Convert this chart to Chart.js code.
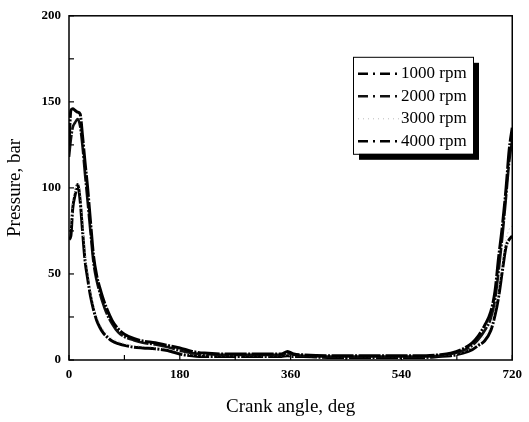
<!DOCTYPE html>
<html>
<head>
<meta charset="utf-8">
<script src="https://cdn.jsdelivr.net/npm/chart.js@4.4.1/dist/chart.umd.min.js"></script>
<style>
  html, body { margin: 0; padding: 0; background: #fff; }
  #wrap { width: 529px; height: 422px; }
</style>
</head>
<body>
<div id="wrap"><canvas id="pressureChart"></canvas></div>
<script>
const angles = [0, 3, 6, 10, 14, 18, 22, 26, 30, 35, 40, 45, 50, 55, 60, 70, 80, 90, 105, 120, 140, 160, 180, 200, 220, 250, 280, 320, 345, 355, 365, 380, 420, 480, 540, 580, 600, 620, 640, 655, 665, 675, 685, 692, 698, 704, 710, 715, 720];

const rpm1000 = [125, 145, 146, 145, 144, 143, 130, 115, 101, 80, 60, 49, 42, 36, 31, 23, 18, 15, 12.5, 11, 10, 8.5, 7, 5, 4, 3.5, 3.5, 3.5, 3.5, 5, 3.5, 3, 2.5, 2.5, 2.5, 2.5, 3, 4, 6.5, 10, 14, 20, 28, 40, 60, 78, 100, 122, 135];
const rpm2000 = [118, 128, 135, 138, 140, 136, 124, 108, 93, 74, 56, 46, 39, 33, 28, 21, 16, 13.5, 11.5, 10, 9, 7.5, 5.5, 4, 3.5, 3, 3, 3, 3, 4, 3, 2.5, 2, 2, 2, 2, 2.5, 3.5, 5.5, 8.5, 12, 17, 24, 35, 52, 72, 95, 115, 128];
const rpm3000 = [74, 78, 92, 99, 104, 97, 80, 63, 52, 40, 32, 26, 21, 18, 16, 12.5, 11, 9.5, 8.5, 8, 7.5, 6.5, 4.5, 3, 2.5, 2.5, 2.5, 2.5, 2.5, 3, 2.5, 2.5, 2, 2, 2, 2, 2.5, 3, 4.5, 7, 10, 14, 20, 30, 42, 57, 70, 76, 78];
const rpm4000 = [70, 72, 88, 96, 102, 93, 75, 58, 48, 37, 29, 23, 19, 16, 14, 11, 9.5, 8.5, 7.5, 7, 6.5, 5.5, 3.5, 2.5, 2, 2, 2, 2, 2, 2.5, 2, 2, 1.5, 1.5, 1.5, 1.5, 2, 2.5, 4, 6, 8.5, 11, 17, 26, 37, 52, 66, 70, 72];

const seriesNames = ["1000 rpm", "2000 rpm", "3000 rpm", "4000 rpm"];
const xTicks = [0, 180, 360, 540, 720];
const yTicks = [0, 50, 100, 150, 200];

const serif = "'Liberation Serif', 'DejaVu Serif', serif";

function toPoints(vals) {
  return angles.map((a, i) => ({ x: a, y: vals[i] }));
}

const styles = [
  { color: "#000", width: 3, dash: [22, 1.5, 2, 1.5] },
  { color: "#111", width: 2.6, dash: [22, 1.5, 2, 1.5] },
  { color: "#bbb", width: 1, dash: [1, 3] },
  { color: "#000", width: 3, dash: [22, 1.5, 2, 1.5] },
];

const datasets = [rpm1000, rpm2000, rpm3000, rpm4000].map((vals, i) => ({
  label: seriesNames[i],
  data: toPoints(vals),
  borderColor: styles[i].color,
  borderWidth: styles[i].width,
  borderDash: styles[i].dash,
  pointRadius: 0,
  fill: false,
  cubicInterpolationMode: "monotone",
}));

// inward ticks and frame
const frameTicks = {
  id: "frameTicks",
  afterDatasetsDraw(chart) {
    const { ctx, chartArea: a, scales } = chart;
    ctx.save();
    ctx.strokeStyle = "#000";
    ctx.lineWidth = 1.5;
    ctx.setLineDash([]);
    ctx.strokeRect(a.left, a.top, a.right - a.left, a.bottom - a.top);
    ctx.lineWidth = 1.2;
    for (let v = 0; v <= 720; v += 90) {
      const x = scales.x.getPixelForValue(v);
      ctx.beginPath();
      ctx.moveTo(x, a.bottom);
      ctx.lineTo(x, a.bottom - 5);
      ctx.stroke();
    }
    for (let v = 0; v <= 200; v += 25) {
      const y = scales.y.getPixelForValue(v);
      ctx.beginPath();
      ctx.moveTo(a.left, y);
      ctx.lineTo(a.left + 5, y);
      ctx.stroke();
    }
    ctx.restore();
  },
};

// boxed legend with drop shadow inside the plot
const boxLegend = {
  id: "boxLegend",
  afterDraw(chart) {
    const { ctx, chartArea: a } = chart;
    const bx = a.left + 284, by = a.top + 41, bw = 120, bh = 97;
    ctx.save();
    ctx.fillStyle = "#000";
    ctx.fillRect(bx + 6, by + 6, bw, bh);
    ctx.fillStyle = "#fff";
    ctx.fillRect(bx, by, bw, bh);
    ctx.strokeStyle = "#000";
    ctx.lineWidth = 1;
    ctx.strokeRect(bx + 0.5, by + 0.5, bw, bh);
    ctx.font = "17px " + serif;
    ctx.textBaseline = "middle";
    ctx.textAlign = "left";
    chart.data.datasets.forEach((ds, i) => {
      const y = by + 17 + i * 22.5;
      ctx.strokeStyle = ds.borderColor;
      ctx.lineWidth = i === 2 ? 1 : 2.5;
      ctx.setLineDash(i === 2 ? [1, 4] : [10, 5, 2, 5]);
      ctx.beginPath();
      ctx.moveTo(bx + 5, y);
      ctx.lineTo(bx + 47, y);
      ctx.stroke();
      ctx.fillStyle = "#000";
      ctx.fillText(ds.label, bx + 48, y);
    });
    ctx.restore();
  },
};

const ctx = document.getElementById("pressureChart").getContext("2d");
new Chart(ctx, {
  type: "line",
  data: { datasets },
  options: {
    responsive: true,
    maintainAspectRatio: false,
    animation: false,
    layout: { padding: { left: 0, top: 14, right: 14, bottom: 0 } },
    plugins: {
      legend: { display: false },
      tooltip: { enabled: false },
    },
    scales: {
      x: {
        type: "linear",
        min: 0,
        max: 720,
        afterBuildTicks: (s) => { s.ticks = xTicks.map((v) => ({ value: v })); },
        afterFit: (s) => { s.height = 62; },
        grid: { display: false, drawTicks: false },
        border: { display: false },
        ticks: {
          color: "#000",
          padding: 7,
          maxRotation: 0,
          font: { family: serif, size: 13, weight: "bold" },
        },
        title: {
          display: true,
          text: "Crank angle, deg",
          color: "#000",
          font: { family: serif, size: 19 },
          padding: { top: 9 },
        },
      },
      y: {
        min: 0,
        max: 200,
        afterBuildTicks: (s) => { s.ticks = yTicks.map((v) => ({ value: v })); },
        afterFit: (s) => { s.width = 69; },
        grid: { display: false, drawTicks: false },
        border: { display: false },
        ticks: {
          color: "#000",
          padding: 8,
          font: { family: serif, size: 13, weight: "bold" },
        },
        title: {
          display: true,
          text: "Pressure, bar",
          color: "#000",
          font: { family: serif, size: 19 },
          padding: { bottom: 2 },
        },
      },
    },
  },
  plugins: [frameTicks, boxLegend],
});
</script>
</body>
</html>
